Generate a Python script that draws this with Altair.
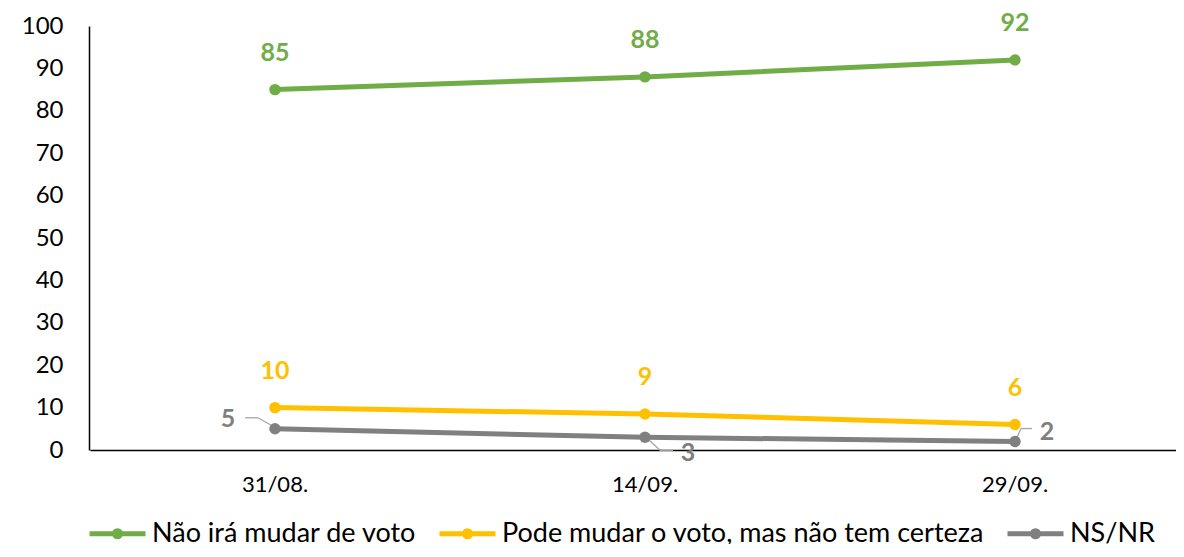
import altair as alt
import pandas as pd

dates = ["31/08.", "14/09.", "29/09."]
series = ["Não irá mudar de voto", "Pode mudar o voto, mas não tem certeza", "NS/NR"]
nao_ira = [85, 88, 92]
pode_mudar = [10, 8.5, 6]
ns_nr = [5, 3, 2]
colors = ["#70AD47", "#FFC000", "#808080"]

rows = []
for s, vals in zip(series, [nao_ira, pode_mudar, ns_nr]):
    for d, v in zip(dates, vals):
        rows.append({"date": d, "series": s, "value": v})
df = pd.DataFrame(rows)

FONT = "Lato"
legend_path = "M-1,0L1,0M0.11,0A0.11,0.11,0,1,1,-0.11,0A0.11,0.11,0,1,1,0.11,0Z"

xenc = alt.X(
    "date:N", sort=dates,
    scale=alt.Scale(type="band", range=[1, 1111], paddingInner=0, paddingOuter=0),
    axis=alt.Axis(title=None, labelAngle=0, ticks=False, grid=False, labelFontSize=22,
                  labelPadding=24, labelFont=FONT, labelColor="#000000",
                  domainColor="#000000", domainWidth=1.5),
)
yenc = alt.Y(
    "value:Q", scale=alt.Scale(domain=[0, 100], nice=False),
    axis=alt.Axis(title=None, values=list(range(0, 101, 10)), ticks=False, grid=False,
                  labelFontSize=24, labelPadding=26, labelFont=FONT, labelColor="#000000",
                  domainColor="#000000", domainWidth=1.5),
)
color_scale = alt.Scale(domain=series, range=colors)

base = alt.Chart(df).encode(x=xenc, y=yenc)

lines = base.mark_line(strokeWidth=5, strokeCap="round",
                       point=alt.OverlayMarkDef(size=130, filled=True, opacity=1)).encode(
    color=alt.Color("series:N", scale=color_scale, sort=series,
                    legend=alt.Legend(title=None, orient="none", legendX=-2, legendY=477,
                                      direction="horizontal", symbolType=legend_path,
                                      symbolSize=3136, symbolStrokeWidth=5,
                                      labelFontSize=27, labelFont=FONT, labelColor="#000000",
                                      labelOffset=4, columnPadding=12, labelLimit=700))
)

top_labels = base.mark_text(fontSize=25, fontWeight="bold", font=FONT, dy=-37,
                            baseline="middle").encode(
    text=alt.Text("value:Q", format=".0f"),
    color=alt.Color("series:N", scale=color_scale, legend=None),
).transform_filter(alt.FieldOneOfPredicate(field="series", oneOf=series[:2]))

gray = "#7F7F7F"
lead = "#A6A6A6"

def gray_label(d, dx, dy):
    return base.mark_text(fontSize=25, fontWeight="bold", font=FONT, dx=dx, dy=dy,
                          baseline="middle", color=gray).encode(
        text=alt.Text("value:Q", format=".0f")
    ).transform_filter(
        (alt.datum.series == series[2]) & (alt.datum.date == d)
    )

def leader(d, x1, y1, x2, y2):
    return base.mark_rule(color=lead, strokeWidth=1.3, xOffset=x1, yOffset=y1,
                          x2Offset=x2, y2Offset=y2).encode(
        x2=alt.X2("date:N"), y2=alt.Y2("value:Q")
    ).transform_filter(
        (alt.datum.series == series[2]) & (alt.datum.date == d)
    )

layers = [
    leader(dates[0], -3, -3, -17, -11),
    leader(dates[0], -17, -11, -30, -11),
    leader(dates[1], 1, 0, 15, 13),
    leader(dates[1], 15, 13, 28, 13),
    leader(dates[2], 2, -4, 6, -13),
    leader(dates[2], 6, -13, 17, -13),
    lines,
    top_labels,
    gray_label(dates[0], -47, -10),
    gray_label(dates[1], 43, 16),
    gray_label(dates[2], 32, -10),
]

chart = alt.layer(*layers).properties(
    width=1087, height=424,
    background="white",
    view=alt.ViewBackground(stroke=None, strokeOpacity=0, strokeWidth=0),
    autosize=alt.AutoSizeParams(type="none"),
    padding={"left": 81, "top": 18, "right": 0, "bottom": 94},
).configure(
    view=alt.ViewConfig(stroke=None, strokeOpacity=0, strokeWidth=0),
    style={"cell": {"strokeOpacity": 0, "strokeWidth": 0}},
)

chart.save("out.html", embed_options={"renderer": "svg", "actions": False})
